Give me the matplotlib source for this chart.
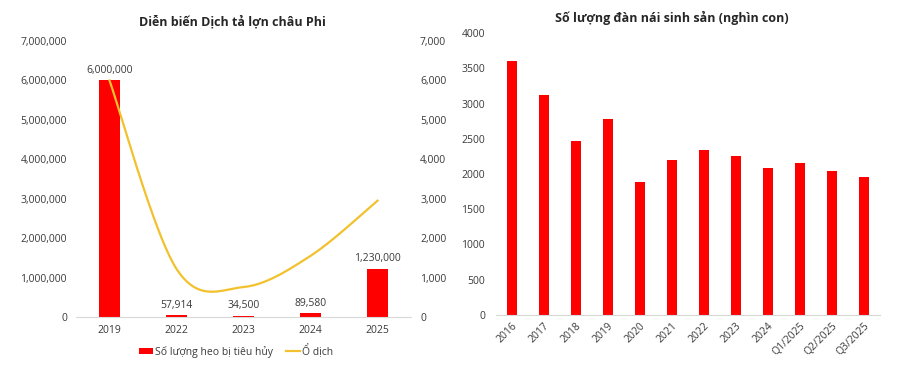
import matplotlib
matplotlib.use("Agg")
import matplotlib.pyplot as plt
import numpy as np
from matplotlib.ticker import FuncFormatter, MultipleLocator
from matplotlib.patches import Patch
from matplotlib.lines import Line2D

# ---- data ----
asf_years = ["2019", "2022", "2023", "2024", "2025"]
pigs_culled = [6000000, 57914, 34500, 89580, 1230000]
outbreaks = [6000, 1220, 760, 1550, 2950]

sow_periods = ["2016", "2017", "2018", "2019", "2020", "2021", "2022", "2023",
               "2024", "Q1/2025", "Q2/2025", "Q3/2025"]
sow_herd = [3600, 3120, 2470, 2780, 1885, 2205, 2340, 2260, 2080, 2150, 2045, 1955]

RED = "#FF0000"
GOLD = "#F2C12E"
TXT = "#3A3A3A"
AXL = "#D9D9D9"

plt.rcParams['font.family'] = ['Open Sans', 'DejaVu Sans']

fig = plt.figure(figsize=(9.01, 3.66), dpi=100)

def catmull(xs, ys, n=40):
    xs = np.asarray(xs, float); ys = np.asarray(ys, float)
    P = np.column_stack([xs, ys])
    out = []
    for i in range(len(P) - 1):
        p0 = P[i - 1] if i > 0 else P[i]
        p1 = P[i]; p2 = P[i + 1]
        p3 = P[i + 2] if i + 2 < len(P) else P[i + 1]
        c1 = p1 + (p2 - p0) / 6.0
        c2 = p2 - (p3 - p1) / 6.0
        t = np.linspace(0, 1, n)[:, None]
        seg = (1 - t) ** 3 * p1 + 3 * (1 - t) ** 2 * t * c1 + 3 * (1 - t) * t ** 2 * c2 + t ** 3 * p2
        out.append(seg if i == 0 else seg[1:])
    a = np.vstack(out)
    return a[:, 0], a[:, 1]

# ---- left chart ----
ax1 = fig.add_axes([76/901, 49/366, 335/901, 276/366])
x = np.arange(len(asf_years))
ax1.bar(x, pigs_culled, width=0.31, color=RED, zorder=2)
ax1.set_xlim(-0.5, len(asf_years) - 0.5)
ax1.set_ylim(0, 7000000)
ax1.yaxis.set_major_locator(MultipleLocator(1000000))
ax1.yaxis.set_major_formatter(FuncFormatter(lambda v, p: f"{int(v):,}"))
ax1.set_xticks(x)
ax1.set_xticklabels(asf_years)
for xi, v in zip(x, pigs_culled):
    ax1.annotate(f"{v:,}", (xi, v), xytext=(0, 3), textcoords="offset points",
                 ha="center", va="bottom", fontsize=7.5, color=TXT)
for s in ["top", "left", "right"]:
    ax1.spines[s].set_visible(False)
ax1.spines["bottom"].set_color(AXL)
ax1.tick_params(axis="both", length=0, labelsize=7.5, colors=TXT)
ax1.tick_params(axis="y", pad=6.5)
ax1.tick_params(axis="x", pad=6)

ax1b = ax1.twinx()
sx, sy = catmull(x, outbreaks)
ax1b.plot(sx, sy, color=GOLD, lw=1.6, zorder=3)
ax1b.set_ylim(0, 7000)
ax1b.yaxis.set_major_locator(MultipleLocator(1000))
ax1b.yaxis.set_major_formatter(FuncFormatter(lambda v, p: f"{int(v):,}"))
for s in ["top", "left", "right", "bottom"]:
    ax1b.spines[s].set_visible(False)
ax1b.tick_params(axis="y", length=0, labelsize=7.5, colors=TXT, pad=6.5)

fig.text(232/901, 1 - 22/366, "Diễn biến Dịch tả lợn châu Phi", ha="center", va="center",
         fontsize=9, fontweight="bold", color="#262626")

handles = [Patch(facecolor=RED, edgecolor="none", label="Số lượng heo bị tiêu hủy"),
           Line2D([0], [0], color=GOLD, lw=1.6, label="Ổ dịch")]
fig.legend(handles=handles, loc="center", bbox_to_anchor=(236/901, 1 - 351/366), ncol=2,
           frameon=False, fontsize=7.5, labelcolor=TXT, handlelength=1.4, handleheight=0.55,
           handletextpad=0.2, columnspacing=1.2)

# ---- right chart ----
ax2 = fig.add_axes([496/901, 51/366, 384/901, 282/366])
x2 = np.arange(len(sow_periods))
ax2.bar(x2, sow_herd, width=0.31, color=RED, zorder=2)
ax2.set_xlim(-0.5, len(sow_periods) - 0.5)
ax2.set_ylim(0, 4000)
ax2.yaxis.set_major_locator(MultipleLocator(500))
ax2.set_xticks(x2)
ax2.set_xticklabels(sow_periods, rotation=45, ha="right", rotation_mode="anchor")
for s in ["top", "left", "right"]:
    ax2.spines[s].set_visible(False)
ax2.spines["bottom"].set_color(AXL)
ax2.tick_params(axis="both", length=0, labelsize=7.5, colors=TXT)
ax2.tick_params(axis="y", pad=8)
ax2.tick_params(axis="x", pad=4)

fig.text(672/901, 1 - 18/366, "Số lượng đàn nái sinh sản (nghìn con)", ha="center", va="center",
         fontsize=9, fontweight="bold", color="#262626")

fig.savefig("out.png", dpi=100, facecolor="white")
